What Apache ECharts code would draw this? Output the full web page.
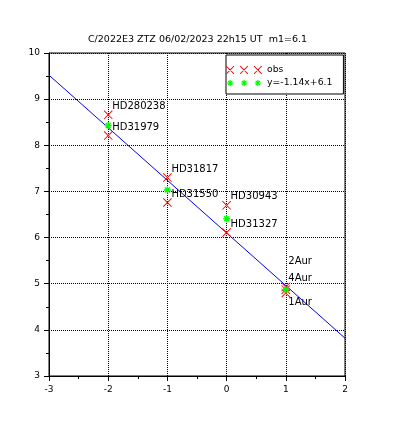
<!DOCTYPE html>
<html><head><meta charset="utf-8">
<script src="https://cdn.jsdelivr.net/npm/echarts@6/dist/echarts.min.js"></script>
<style>html,body{margin:0;padding:0;background:#fff}#c{width:395px;height:430px}</style>
</head><body><div id="c"></div>
<script>
const titleText = 'C/2022E3 ZTZ 06/02/2023 22h15 UT  m1=6.1';
const obsX = [-2, -2, -1, -1, 0, 0, 1, 1, 1];
const obsY = [8.66, 8.21, 7.30, 6.76, 6.70, 6.11, 4.93, 4.87, 4.80];
const obsNames = ['HD280238', 'HD31979', 'HD31817', 'HD31550', 'HD30943', 'HD31327', '2Aur', '4Aur', '1Aur'];
const meanX = [-2, -1, 0, 1];
const meanY = [8.43, 7.03, 6.41, 4.87];
const fitX = [-3, 2];
const fitY = [9.52, 3.82];
const legendNames = ['obs', 'y=-1.14x+6.1'];
const xTicks = [-3, -2, -1, 0, 1, 2];
const yTicks = [3, 4, 5, 6, 7, 8, 9, 10];

const FONT = 'DejaVu Sans';
function astr(ox, oy, s) {
  const p = (x, y) => (ox + x * s).toFixed(2) + ',' + (oy + y * s).toFixed(2);
  return 'M' + p(0,4) + ' L' + p(10,4) + ' L' + p(10,6) + ' L' + p(0,6) + ' Z ' +
         'M' + p(4,0) + ' L' + p(6,0) + ' L' + p(6,10) + ' L' + p(4,10) + ' Z ' +
         'M' + p(0.7,2.1) + ' L' + p(2.1,0.7) + ' L' + p(9.3,7.9) + ' L' + p(7.9,9.3) + ' Z ' +
         'M' + p(7.9,0.7) + ' L' + p(9.3,2.1) + ' L' + p(2.1,9.3) + ' L' + p(0.7,7.9) + ' Z';
}
function xstr(ox, oy, s) {
  const p = (x, y) => (ox + x * s).toFixed(2) + ',' + (oy + y * s).toFixed(2);
  return 'M' + p(0,0.7) + ' L' + p(0.7,0) + ' L' + p(10,9.3) + ' L' + p(9.3,10) + ' Z ' +
         'M' + p(9.3,0) + ' L' + p(10,0.7) + ' L' + p(0.7,10) + ' L' + p(0,9.3) + ' Z';
}
const XPATH = 'path://' + xstr(0, 0, 1);
const STAR = 'path://' + astr(0, 0, 1);
const legendX = 'path://M0,0 L0,0 M36,10 L36,10 ' + xstr(0,0.85,0.83) + ' ' + xstr(13.85,0.85,0.83) + ' ' + xstr(27.7,0.85,0.83);
const legendStar = 'path://M0,0 L0,0 M36,10 L36,10 ' + astr(1.15,2,0.6) + ' ' + astr(15.15,2,0.6) + ' ' + astr(28.85,2,0.6);

const labelPos = { '2Aur': [7, -21], '4Aur': [7, -7], '1Aur': [7, 14] };
const obsData = obsX.map((x, i) => {
  const d = { value: [x, obsY[i]], name: obsNames[i] };
  if (labelPos[obsNames[i]]) d.label = { position: labelPos[obsNames[i]] };
  return d;
});
const meanData = meanX.map((x, i) => [x, meanY[i]]);
const fitData = fitX.map((x, i) => [x, fitY[i]]);

const chart = echarts.init(document.getElementById('c'), null, { renderer: 'canvas' });
chart.setOption({
  backgroundColor: '#fff',
  animation: false,
  title: {
    text: titleText, left: 'center', top: 30,
    textStyle: { fontFamily: FONT, fontSize: 9.5, fontWeight: 'normal', color: '#000' }
  },
  legend: {
    orient: 'vertical', left: 226, top: 55,
    padding: [10, 11, 6, 0], itemGap: 3,
    itemWidth: 36, itemHeight: 10,
    borderColor: '#000', borderWidth: 1, backgroundColor: '#fff',
    textStyle: { fontFamily: FONT, fontSize: 9.3, color: '#000', lineHeight: 10 },
    data: [
      { name: legendNames[0], icon: legendX },
      { name: legendNames[1], icon: legendStar }
    ]
  },
  grid: { left: 49, right: 50, top: 53, bottom: 54, show: true, borderColor: '#000', borderWidth: 1, backgroundColor: 'transparent' },
  xAxis: {
    type: 'value', min: xTicks[0], max: xTicks[xTicks.length - 1], interval: 1,
    axisLine: { onZero: false, lineStyle: { color: '#000', width: 1 } },
    axisTick: { length: 5, lineStyle: { color: '#000' } },
    minorTick: { show: true, splitNumber: 2, length: 3, lineStyle: { color: '#000' } },
    splitLine: { show: true, lineStyle: { color: '#000', type: [1, 1], width: 1 } },
    axisLabel: { color: '#000', fontFamily: FONT, fontSize: 9, margin: 9 }
  },
  yAxis: {
    type: 'value', min: yTicks[0], max: yTicks[yTicks.length - 1], interval: 1,
    axisLine: { show: true, onZero: false, lineStyle: { color: '#000', width: 1 } },
    axisTick: { show: true, length: 5, lineStyle: { color: '#000' } },
    minorTick: { show: true, splitNumber: 2, length: 3, lineStyle: { color: '#000' } },
    splitLine: { show: true, lineStyle: { color: '#000', type: [1, 1], width: 1 } },
    axisLabel: { color: '#000', fontFamily: FONT, fontSize: 9, margin: 9 }
  },
  series: [
    {
      type: 'line', data: fitData, showSymbol: false, silent: true, z: 1,
      lineStyle: { color: '#0000ff', width: 1 }, itemStyle: { color: '#0000ff' }
    },
    {
      name: legendNames[0], type: 'scatter', data: obsData, z: 3,
      symbol: XPATH, symbolSize: 9,
      itemStyle: { color: '#ff0000', opacity: 1 },
      label: {
        show: true, formatter: p => p.name, position: [8.5, -4],
        align: 'left', verticalAlign: 'middle',
        fontFamily: FONT, fontSize: 10, color: '#000'
      }
    },
    {
      name: legendNames[1], type: 'scatter', data: meanData, z: 4,
      symbol: STAR, symbolSize: 7,
      itemStyle: { color: '#00ff00', opacity: 1 }
    }
  ]
});
</script></body></html>
